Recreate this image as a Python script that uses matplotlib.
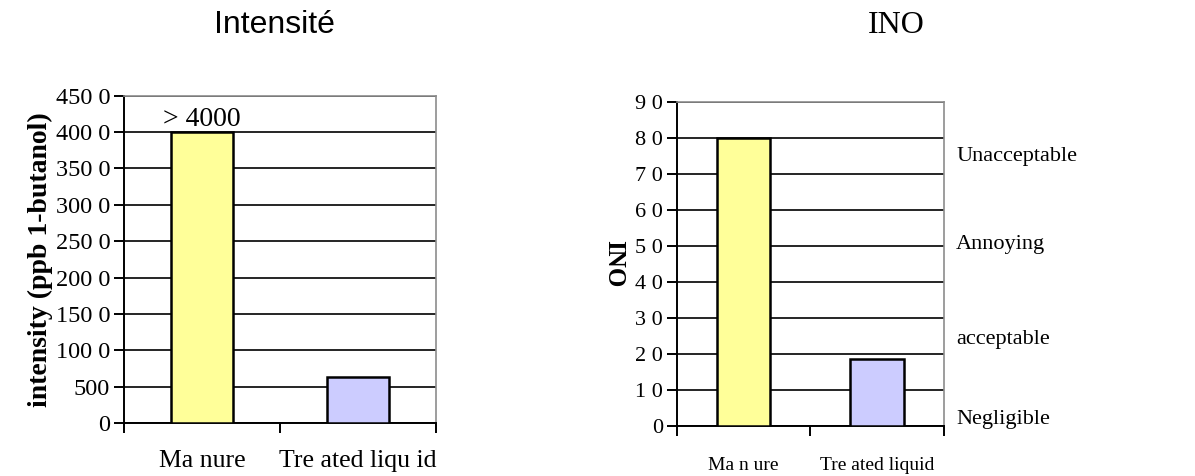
import matplotlib
matplotlib.use("Agg")
import matplotlib.pyplot as plt

# data
categories = ["Ma nure", "Tre ated liqu id"]
intensity = [4000, 630]
intensity_ticks = [0, 500, 1000, 1500, 2000, 2500, 3000, 3500, 4000, 4500]
intensity_ticklabels = ["0", "500", "100 0", "150 0", "200 0", "250 0",
                        "300 0", "350 0", "400 0", "450 0"]

categories_ino = ["Ma n ure", "Tre ated liquid"]
ino = [80, 18.7]
ino_ticks = [0, 10, 20, 30, 40, 50, 60, 70, 80, 90]
ino_ticklabels = ["0", "1 0", "2 0", "3 0", "4 0", "5 0", "6 0", "7 0", "8 0", "9 0"]
levels = ["Unacceptable", "Annoying", "acceptable", "Negligible"]
level_pos = [75, 50.5, 24, 1.8]

bar_colors = ["#FFFF99", "#CCCCFF"]
serif = "Liberation Serif"

fig = plt.figure(figsize=(11.95, 4.76), dpi=100)


def style_axes(ax):
    ax.grid(axis="y", color="black", linewidth=1.2)
    ax.set_axisbelow(True)
    for side in ("top", "right"):
        ax.spines[side].set_color("#8c8c8c")
        ax.spines[side].set_linewidth(1.2)
    for side in ("left", "bottom"):
        ax.spines[side].set_linewidth(1.4)
    ax.tick_params(axis="both", direction="out", length=7, width=1.4)
    ax.set_xlim(-0.5, 1.5)
    ax.set_xticks([-0.5, 0.5, 1.5], minor=False)
    ax.set_xticklabels([])
    ax.set_xticks([0, 1], minor=True)
    ax.tick_params(axis="x", which="minor", length=0)


# ---- left: intensity
ax1 = fig.add_axes([0.1038, 0.1107, 0.2611, 0.6883])
ax1.bar(range(len(categories)), intensity, width=0.4, color=bar_colors,
        edgecolor="black", linewidth=1.8, zorder=3)
style_axes(ax1)
ax1.set_ylim(0, 4500)
ax1.set_yticks(intensity_ticks)
ax1.set_yticklabels(intensity_ticklabels, fontsize=17.5, family=serif)
ax1.set_xticklabels(categories, minor=True, fontsize=18.5, family=serif)
ax1.tick_params(axis="x", which="minor", pad=19)
ax1.tick_params(axis="y", pad=3)
ax1.set_ylabel("intensity (ppb 1-butanol)", fontsize=20, fontweight="bold",
               family=serif, labelpad=2)
ax1.text(0, intensity[0], "> 4000", ha="center", va="bottom", fontsize=20,
         family=serif)
fig.text(0.23, 0.947, "Intensité", ha="center", va="center", fontsize=23,
         family="Liberation Sans")

# ---- right: INO
ax2 = fig.add_axes([0.5663, 0.105, 0.2237, 0.680])
ax2.bar(range(len(categories_ino)), ino, width=0.4, color=bar_colors,
        edgecolor="black", linewidth=1.8, zorder=3)
style_axes(ax2)
ax2.set_ylim(0, 90)
ax2.set_yticks(ino_ticks)
ax2.set_yticklabels(ino_ticklabels, fontsize=16, family=serif)
ax2.set_xticklabels(categories_ino, minor=True, fontsize=14, family=serif)
ax2.tick_params(axis="x", which="minor", pad=22)
ax2.tick_params(axis="y", pad=3)
ax2.set_ylabel("INO", fontsize=18, fontweight="bold", family=serif,
               rotation=270, va="bottom", labelpad=24)
for lab, y in zip(levels, level_pos):
    ax2.text(1.045, y, lab, transform=ax2.get_yaxis_transform(), ha="left",
             va="center", fontsize=16, family=serif)
fig.text(0.75, 0.947, "INO", ha="center", va="center", fontsize=23,
         family=serif)

fig.savefig("out.png", dpi=100)
